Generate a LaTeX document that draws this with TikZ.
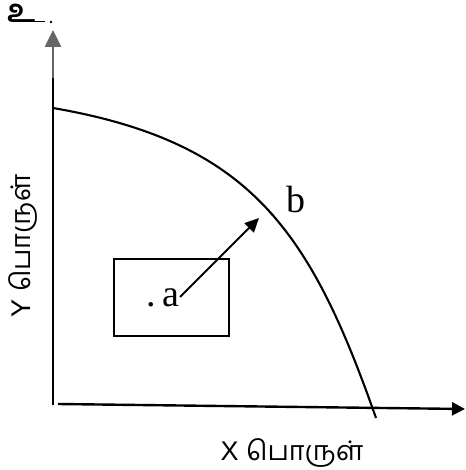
\documentclass[tikz,border=0pt]{standalone}
\usepackage{fontspec}
\setmainfont{Liberation Serif}
\newfontfamily\tamilfont[Script=Tamil]{Hind Madurai}
\newfontfamily\sansfont{Liberation Sans}
\usetikzlibrary{arrows.meta}
\tikzset{
  axis/.style={line width=2.4pt},
  lbl/.style={inner sep=0pt, font=\fontsize{38}{38}\selectfont},
  axlbl/.style={inner sep=0pt, font=\fontsize{27}{27}\selectfont},
  dotmark/.style={circle, fill, inner sep=0.9pt},
}
\begin{document}
\begin{tikzpicture}[x=1pt,y=-1pt]
\useasboundingbox (0,0) rectangle (465,470);
% points
\coordinate (O) at (53,405);
\coordinate (Ygray) at (53,78);
\coordinate (Ytop) at (53,30);
\coordinate (Xs) at (58,404);
\coordinate (Xe) at (465,409);
\coordinate (C0) at (53,108);
\coordinate (C1) at (376,418);
% y axis
\draw[axis] (O) -- (Ygray);
\draw[line width=2.6pt, gray!80!black, -{Triangle[length=17pt,width=16pt]}] (Ygray) -- (Ytop);
% x axis
\draw[axis, -{Triangle[length=13pt,width=13pt]}] (Xs) -- (Xe);
% curve with point b on it
\draw[line width=2.1pt] (C0) .. controls (250,142) and (310,230) .. (C1)
  node[dotmark, pos=0.53] (bdot) {};
% rectangle
\node[draw, line width=1.3pt, minimum width=115pt, minimum height=77pt, inner sep=0pt] (box) at (171.5,297.5) {};
% point a
\node[lbl, anchor=base west] (a) at (146,306) {.\,a};
\coordinate (aS) at (180,297);
\coordinate (bE) at (259,218);
\draw[line width=2pt, -{Triangle[length=14pt,width=13pt]}] (aS) -- (bE);
% label b
\node[lbl, anchor=base west] (b) at (286,212) {b};
% labels
\node[axlbl, anchor=base] (xl) at (292,460) {\sansfont X \tamilfont பொருள்};
\node[axlbl, anchor=base, rotate=90] (yl) at (30,246) {\sansfont Y \tamilfont பொருள்};
\node[inner sep=0pt, anchor=base west, font=\fontsize{32}{32}\selectfont\bfseries] (u) at (7,23) {\tamilfont உ};
\draw[line width=1pt] (29,22) -- (45,22);
\node[circle, fill, inner sep=1pt] (udot) at (51,22) {};
\end{tikzpicture}
\end{document}
